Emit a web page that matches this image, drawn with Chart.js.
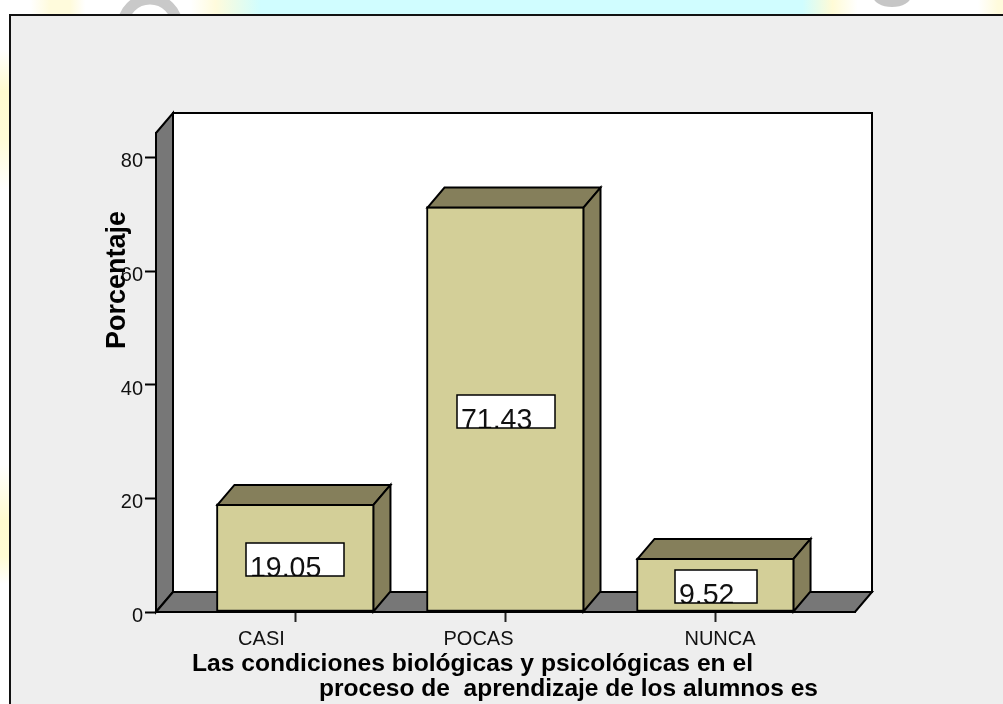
<!DOCTYPE html>
<html>
<head>
<meta charset="utf-8">
<style>html,body{margin:0;padding:0;background:#fff;overflow:hidden}#wrap{position:relative;width:1003px;height:704px}</style>
<script src="https://cdn.jsdelivr.net/npm/chart.js@4"></script>
</head>
<body>
<div id="wrap"><canvas id="c" width="1003" height="704"></canvas></div>
<script>
const categories = ['CASI', 'POCAS', 'NUNCA'];
const values = [19.05, 71.43, 9.52];
const valueLabels = ['19,05', '71,43', '9.52'];
const yTicks = [0, 20, 40, 60, 80];
const yTitle = 'Porcentaje';
const xTitleLines = ['Las condiciones biológicas y psicológicas en el', 'proceso de  aprendizaje de los alumnos es'];

const FONT = '"Liberation Sans", Arial, sans-serif';
const DX = 17, DY = 20;
const xLabelShift = [-34, -27, 4.5];

const scenery = {
  id: 'scenery',
  beforeDraw(chart) {
    const {ctx, chartArea: a, width, height} = chart;
    // nudge tick labels the way the reference places them
    chart.scales.x.getLabelItems().forEach((item, i) => {
      item.options.translation = [item.options.translation[0] + xLabelShift[i], item.options.translation[1]];
    });
    chart.scales.y.getLabelItems().forEach(item => {
      item.options.translation = [item.options.translation[0], item.options.translation[1] + 4];
    });
    ctx.save();
    ctx.fillStyle = '#fff';
    ctx.fillRect(0, 0, width, height);
    // page decoration above the panel
    const g = ctx.createLinearGradient(0, 0, width, 0);
    [[0.03,'#ffffff'],[0.05,'#fffbdc'],[0.07,'#fffbdc'],[0.085,'#ffffff'],[0.19,'#ffffff'],[0.215,'#fffbdc'],[0.235,'#eafcea'],[0.26,'#d0fdff'],[0.8,'#d0fdff'],[0.83,'#fffbd6'],[0.855,'#ffffff'],[0.975,'#ffffff'],[0.995,'#fffbdc']]
      .forEach(([p, col]) => g.addColorStop(p, col));
    ctx.fillStyle = g;
    ctx.fillRect(0, 0, width, 15);
    ctx.strokeStyle = '#c9c9c9';
    ctx.lineWidth = 11;
    ctx.beginPath(); ctx.arc(150, 26, 27, Math.PI, 2 * Math.PI); ctx.stroke();
    ctx.fillStyle = '#c6c6c6';
    ctx.beginPath(); ctx.ellipse(892, -4, 19, 11, 0, 0, 2 * Math.PI); ctx.fill();
    const l = ctx.createLinearGradient(0, 0, 0, height);
    [[0.07,'#ffffff'],[0.13,'#fffbcf'],[0.2,'#fffcd8'],[0.27,'#ffffff'],[0.66,'#ffffff'],[0.74,'#fffbcf'],[0.79,'#fffcd4'],[0.83,'#ffffff']]
      .forEach(([p, col]) => l.addColorStop(p, col));
    ctx.fillStyle = l;
    ctx.fillRect(0, 15, 9, height - 15);
    // panel
    ctx.fillStyle = '#eeeeee';
    ctx.fillRect(10, 15, width - 10, height - 15);
    ctx.strokeStyle = '#111';
    ctx.lineWidth = 2;
    ctx.beginPath(); ctx.moveTo(width, 15); ctx.lineTo(10, 15); ctx.lineTo(10, height); ctx.stroke();
    // 3D box: back wall, left wall, floor
    ctx.lineJoin = 'miter';
    ctx.strokeStyle = '#000';
    ctx.fillStyle = '#fff';
    ctx.fillRect(a.left + DX, a.top - DY, a.width, a.height);
    ctx.strokeRect(a.left + DX, a.top - DY, a.width, a.height);
    ctx.fillStyle = '#777777';
    ctx.beginPath();
    ctx.moveTo(a.left, a.top); ctx.lineTo(a.left + DX, a.top - DY);
    ctx.lineTo(a.left + DX, a.bottom - DY); ctx.lineTo(a.left, a.bottom);
    ctx.closePath(); ctx.fill(); ctx.stroke();
    ctx.beginPath();
    ctx.moveTo(a.left, a.bottom); ctx.lineTo(a.left + DX, a.bottom - DY);
    ctx.lineTo(a.right + DX, a.bottom - DY); ctx.lineTo(a.right, a.bottom);
    ctx.closePath(); ctx.fill(); ctx.stroke();
    ctx.restore();
  },
  afterDatasetsDraw(chart) {
    const {ctx} = chart;
    const bars = chart.getDatasetMeta(0).data;
    ctx.save();
    bars.forEach((bar, i) => {
      const p = bar.getProps(['x', 'y', 'base', 'width'], true);
      const l = p.x - p.width / 2 + 1, r = p.x + p.width / 2 - 1, t = p.y + 1, b = p.base;
      ctx.fillStyle = '#857f5b';
      ctx.strokeStyle = '#000';
      ctx.lineWidth = 2;
      ctx.lineJoin = 'miter';
      ctx.beginPath();
      ctx.moveTo(l, t); ctx.lineTo(l + DX, t - DY); ctx.lineTo(r + DX, t - DY); ctx.lineTo(r, t);
      ctx.closePath(); ctx.fill(); ctx.stroke();
      ctx.beginPath();
      ctx.moveTo(r, t); ctx.lineTo(r + DX, t - DY); ctx.lineTo(r + DX, b - DY); ctx.lineTo(r, b);
      ctx.closePath(); ctx.fill(); ctx.stroke();
      // value box, text cut by its lower edge
      ctx.font = '30px ' + FONT;
      const sx = 0.95;
      const w = Math.round(ctx.measureText(valueLabels[i]).width * sx) + 27, h = 33;
      const bx = Math.round(p.x - w / 2), by = Math.round((p.y + p.base) / 2 + 2 - h / 2);
      ctx.fillStyle = '#fff';
      ctx.fillRect(bx, by, w, h);
      ctx.save();
      ctx.beginPath(); ctx.rect(bx, by, w, h); ctx.clip();
      ctx.fillStyle = '#111';
      ctx.textAlign = 'left';
      ctx.textBaseline = 'alphabetic';
      ctx.translate(bx + 4, by + h + 1);
      ctx.scale(sx, 1);
      ctx.fillText(valueLabels[i], 0, 0);
      ctx.restore();
      ctx.strokeStyle = '#000';
      ctx.lineWidth = 1.5;
      ctx.strokeRect(bx, by, w, h);
    });
    ctx.restore();
  },
  afterDraw(chart) {
    const {ctx} = chart;
    ctx.save();
    ctx.fillStyle = '#000';
    ctx.textBaseline = 'alphabetic';
    ctx.textAlign = 'left';
    ctx.font = 'bold 27px ' + FONT;
    ctx.translate(125, 349);
    ctx.rotate(-Math.PI / 2);
    ctx.fillText(yTitle, 0, 0);
    ctx.restore();
    ctx.save();
    ctx.fillStyle = '#000';
    ctx.textBaseline = 'alphabetic';
    ctx.textAlign = 'left';
    ctx.font = 'bold 24px ' + FONT;
    [[192, 671, 561], [319, 696, 499]].forEach(([x, y, w], i) => {
      const m = ctx.measureText(xTitleLines[i]).width;
      ctx.save();
      ctx.translate(x, y);
      ctx.scale(w / m, 1);
      ctx.fillText(xTitleLines[i], 0, 0);
      ctx.restore();
    });
    ctx.restore();
  }
};

new Chart(document.getElementById('c'), {
  type: 'bar',
  plugins: [scenery],
  data: {
    datasets: [{
      data: categories.map((_, i) => ({x: i, y: values[i]})),
      backgroundColor: '#d3cf98',
      borderColor: '#000',
      borderWidth: 2,
      borderSkipped: false,
      barThickness: 158,
      clip: false
    }]
  },
  options: {
    responsive: false,
    animation: false,
    layout: {padding: {top: 133, right: 148, left: 0, bottom: 0}},
    plugins: {legend: {display: false}, title: {display: false}, tooltip: {enabled: false}},
    scales: {
      x: {
        type: 'linear',
        offset: false,
        min: -0.664, max: 2.664,
        afterFit: s => { s.height = 92; },
        border: {color: '#000', width: 2},
        grid: {offset: false, drawOnChartArea: false, tickLength: 10, tickColor: '#222', tickWidth: 2},
        ticks: {
          stepSize: 1, includeBounds: false, autoSkip: false, maxRotation: 0, padding: 5,
          color: '#111', font: {family: FONT, size: 20},
          callback: v => categories[v]
        }
      },
      y: {
        min: yTicks[0], max: 84.4,
        afterFit: s => { s.width = 156; },
        border: {color: '#000', width: 2},
        grid: {drawOnChartArea: false, tickLength: 11, tickColor: '#000', tickWidth: 2},
        ticks: {
          stepSize: yTicks[1] - yTicks[0], includeBounds: false, padding: 2,
          color: '#111', font: {family: FONT, size: 20}
        }
      }
    }
  }
});
</script>
</body>
</html>
